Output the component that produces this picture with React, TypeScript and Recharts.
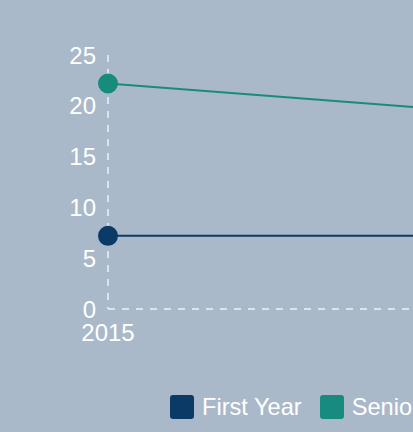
import { CartesianGrid, Legend, Line, LineChart, XAxis, YAxis } from "recharts";

const years = ["2015", "2016"];
const firstYear = [7.2, 7.2];
const seniorYear = [22.2, 18.4];
const yTicks = [0, 5, 10, 15, 20, 25];

const series = [
  { key: "firstYear", name: "First Year", color: "#0c3a67" },
  { key: "seniorYear", name: "Senior Year", color: "#178c7e" },
];

const data = years.map((year, i) => ({
  year,
  firstYear: firstYear[i],
  seniorYear: seniorYear[i],
}));

const font = "Arial, 'Liberation Sans', sans-serif";
const axisColor = "#dce3ea";

function LegendContent() {
  return (
    <div style={{ display: "flex", alignItems: "center", height: 24, fontFamily: font }}>
      {series.map((s) => (
        <div key={s.key} style={{ display: "flex", alignItems: "center", marginRight: 18 }}>
          <span
            style={{ width: 24, height: 24, borderRadius: 3, background: s.color, display: "inline-block" }}
          />
          <span style={{ color: "#fff", fontSize: 23.6, marginLeft: 8, whiteSpace: "nowrap" }}>{s.name}</span>
        </div>
      ))}
    </div>
  );
}

export default function App() {
  return (
    <div style={{ position: "fixed", inset: 0, background: "#a9b9ca", overflow: "hidden" }}>
      <LineChart width={630} height={432} data={data} margin={{ top: 55, right: 20, bottom: 13, left: 0 }}>
        <CartesianGrid horizontal={false} vertical={false} />
        <XAxis
          dataKey="year"
          height={86}
          axisLine={{ stroke: axisColor, strokeDasharray: "7 7", strokeWidth: 2 }}
          tickLine={false}
          tickMargin={9}
          tick={{ fill: "#fff", fontSize: 24, fontFamily: font }}
        />
        <YAxis
          width={108}
          domain={[0, 25]}
          ticks={yTicks}
          axisLine={{ stroke: axisColor, strokeDasharray: "7 7", strokeWidth: 2 }}
          tickLine={false}
          tickMargin={6}
          tick={{ fill: "#fff", fontSize: 24, fontFamily: font }}
        />
        <Legend verticalAlign="bottom" content={<LegendContent />} wrapperStyle={{ left: 170, width: "auto" }} />
        {series.map((s) => (
          <Line
            key={s.key}
            dataKey={s.key}
            name={s.name}
            stroke={s.color}
            strokeWidth={2}
            dot={{ r: 9, fill: s.color, stroke: s.color, strokeWidth: 2 }}
            isAnimationActive={false}
          />
        ))}
      </LineChart>
    </div>
  );
}
